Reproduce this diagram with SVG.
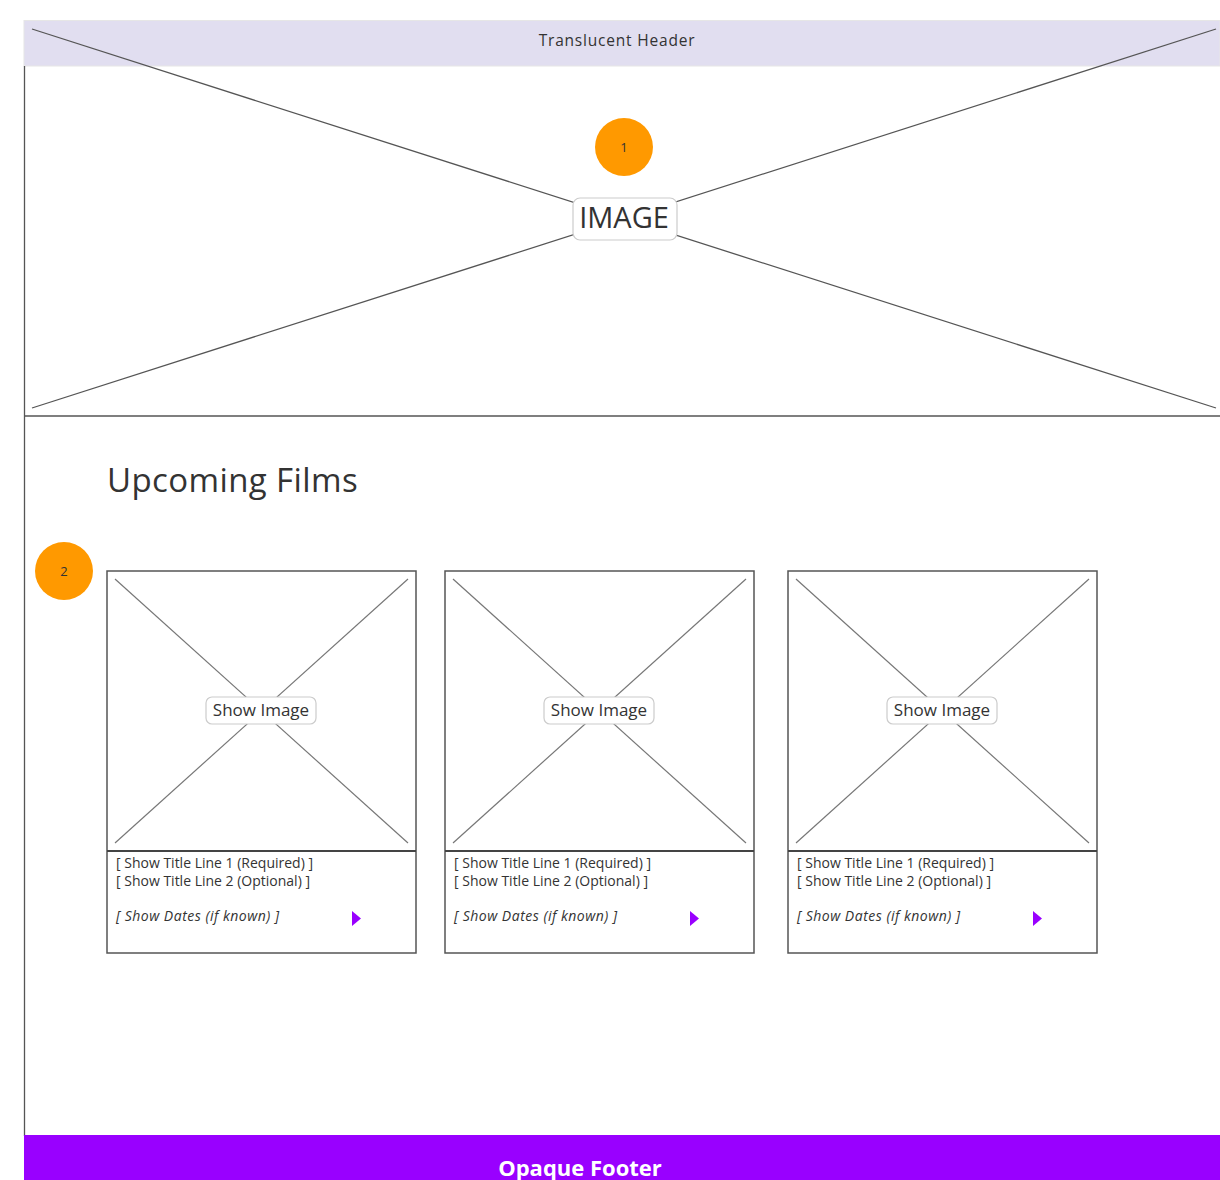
<svg xmlns="http://www.w3.org/2000/svg" width="1220" height="1180" viewBox="0 0 1220 1180">
  <style>
    .txt { font-family: "Open Sans", "Liberation Sans", sans-serif; fill: #333; }
    .xline { stroke: #555; stroke-width: 1.3; }
    .cx { stroke: #777; stroke-width: 1.2; }
    .badge { fill: #ff9900; }
    .badgeTxt { font-family: "Open Sans", sans-serif; font-size: 13px; fill: #333; text-anchor: middle; }
    .card { fill: #fff; stroke: #555; stroke-width: 1.5; }
    .lbl { fill: #fff; stroke: #ccc; stroke-width: 1.2; }
    .meta { font-family: "Open Sans", "Liberation Sans", sans-serif; font-size: 14px; fill: #333; }
    .dates { font-style: italic; letter-spacing: 0.5px; }
    .arrow { fill: #9900ff; }
  </style>
  <rect width="1220" height="1180" fill="#fff"/>

  <!-- translucent header band (placeholder lines show through) -->
  <g id="header">
    <rect x="24" y="20.5" width="1196" height="45.5" fill="#e1def0" stroke="#e6e6e6" stroke-width="1"/>
    <text class="txt" x="617" y="46" font-size="15.5" letter-spacing="0.8" text-anchor="middle" fill="#555">Translucent Header</text>
  </g>

  <!-- page frame -->
  <line x1="24.5" y1="66" x2="24.5" y2="1136" stroke="#555" stroke-width="1.3"/>

  <!-- hero image placeholder -->
  <g id="hero">
    <line class="xline" x1="32" y1="29" x2="1216" y2="408"/>
    <line class="xline" x1="32" y1="408" x2="1216" y2="29"/>
    <line x1="24" y1="416" x2="1220" y2="416" stroke="#555" stroke-width="1.5"/>
    <rect class="lbl" x="573" y="198" width="104" height="42" rx="7"/>
    <text class="txt" x="624" y="228" font-size="29" text-anchor="middle" fill="#222">IMAGE</text>
  </g>

  <g id="badge1">
    <circle class="badge" cx="624" cy="147" r="29"/>
    <text class="badgeTxt" x="624" y="152">1</text>
  </g>

  <g id="title">
    <text class="txt" x="107" y="492" font-size="33" letter-spacing="0.4">Upcoming Films</text>
  </g>

  <g id="badge2">
    <circle class="badge" cx="64" cy="571" r="29"/>
    <text class="badgeTxt" x="64" y="576">2</text>
  </g>

  <!-- film cards -->
  <g id="card1">
    <rect class="card" x="107" y="571" width="309" height="382"/>
    <line class="cx" x1="115" y1="579" x2="408" y2="843"/>
    <line class="cx" x1="115" y1="843" x2="408" y2="579"/>
    <line x1="107" y1="851" x2="416" y2="851" stroke="#444" stroke-width="2"/>
    <rect class="lbl" x="206" y="697" width="110" height="27" rx="6"/>
    <text class="txt" x="261" y="716" font-size="17" text-anchor="middle">Show Image</text>
    <text class="meta" x="116" y="868">[ Show Title Line 1 (Required) ]</text>
    <text class="meta" x="116" y="886">[ Show Title Line 2 (Optional) ]</text>
    <text class="meta dates" x="116" y="921">[ Show Dates (if known) ]</text>
    <polygon class="arrow" points="352,911 361,918.5 352,926"/>
  </g>

  <g id="card2">
    <rect class="card" x="445" y="571" width="309" height="382"/>
    <line class="cx" x1="453" y1="579" x2="746" y2="843"/>
    <line class="cx" x1="453" y1="843" x2="746" y2="579"/>
    <line x1="445" y1="851" x2="754" y2="851" stroke="#444" stroke-width="2"/>
    <rect class="lbl" x="544" y="697" width="110" height="27" rx="6"/>
    <text class="txt" x="599" y="716" font-size="17" text-anchor="middle">Show Image</text>
    <text class="meta" x="454" y="868">[ Show Title Line 1 (Required) ]</text>
    <text class="meta" x="454" y="886">[ Show Title Line 2 (Optional) ]</text>
    <text class="meta dates" x="454" y="921">[ Show Dates (if known) ]</text>
    <polygon class="arrow" points="690,911 699,918.5 690,926"/>
  </g>

  <g id="card3">
    <rect class="card" x="788" y="571" width="309" height="382"/>
    <line class="cx" x1="796" y1="579" x2="1089" y2="843"/>
    <line class="cx" x1="796" y1="843" x2="1089" y2="579"/>
    <line x1="788" y1="851" x2="1097" y2="851" stroke="#444" stroke-width="2"/>
    <rect class="lbl" x="887" y="697" width="110" height="27" rx="6"/>
    <text class="txt" x="942" y="716" font-size="17" text-anchor="middle">Show Image</text>
    <text class="meta" x="797" y="868">[ Show Title Line 1 (Required) ]</text>
    <text class="meta" x="797" y="886">[ Show Title Line 2 (Optional) ]</text>
    <text class="meta dates" x="797" y="921">[ Show Dates (if known) ]</text>
    <polygon class="arrow" points="1033,911 1042,918.5 1033,926"/>
  </g>

  <g id="footer">
    <rect x="24" y="1135" width="1196" height="45" fill="#9900ff"/>
    <text x="580" y="1176" font-family="Open Sans, Liberation Sans, sans-serif" font-size="22" font-weight="bold" fill="#fff" text-anchor="middle">Opaque Footer</text>
  </g>
</svg>
